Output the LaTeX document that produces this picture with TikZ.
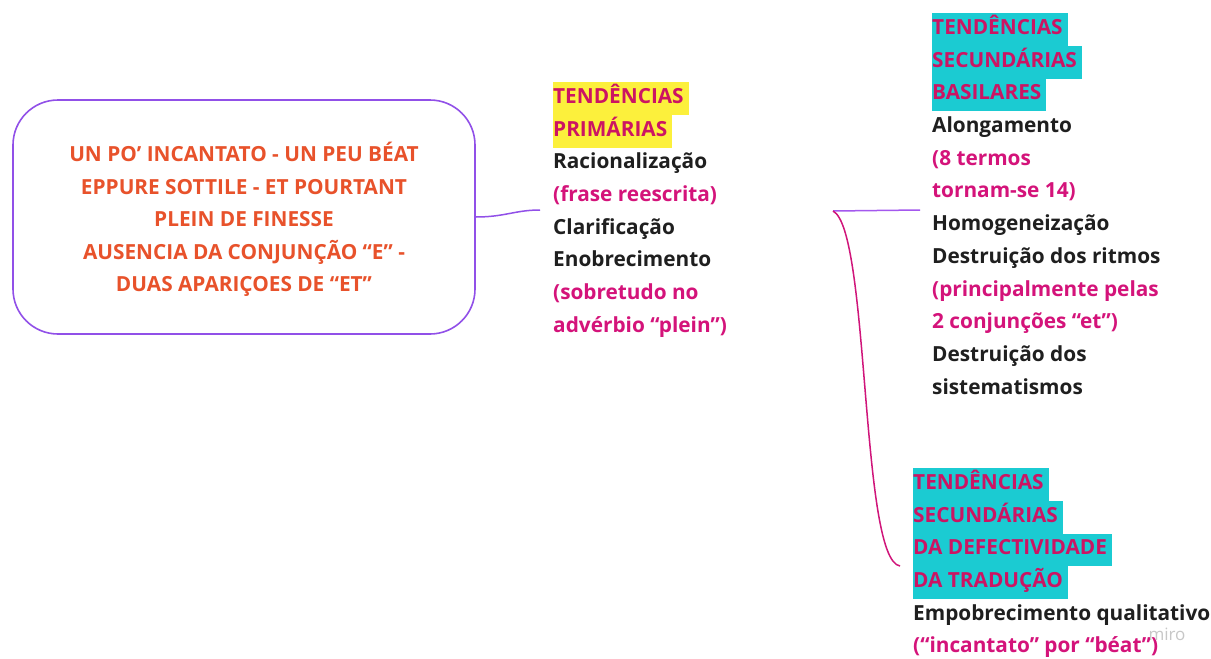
\documentclass[tikz,border=0pt]{standalone}
\usepackage{fontspec}
\setmainfont{Open Sans}
\definecolor{boxline}{HTML}{9150E8}
\definecolor{boxtext}{HTML}{E8522B}
\definecolor{pinktxt}{HTML}{D4137A}
\definecolor{titletxt}{HTML}{CC1463}
\definecolor{darktxt}{HTML}{1F1F1F}
\definecolor{yel}{HTML}{FCF03C}
\definecolor{cyn}{HTML}{1BCBD2}
\definecolor{magline}{HTML}{D0157A}
\definecolor{vioLine}{HTML}{A458EE}
\lineskip=0pt
\lineskiplimit=-100pt
\newcommand\lnstrut{\vrule height 21.2pt depth 11.5pt width 0pt\relax}
\newcommand\hlbox[2]{{\setlength\fboxsep{0pt}\colorbox{#1}{\lnstrut\color{titletxt}#2\hspace{5pt}}}}
\newcommand\dk[1]{\lnstrut\textcolor{darktxt}{#1}}
\newcommand\pk[1]{\lnstrut\textcolor{pinktxt}{#1}}
\tikzset{
  txtblock/.style={anchor=north west, inner sep=0pt, align=left,
    font=\fontsize{20.8}{32.7}\selectfont\bfseries},
  mainbox/.style={draw=boxline, line width=1.6pt, rounded corners=45pt, fill=white,
    minimum width=462pt, minimum height=234pt, inner sep=0pt, align=center,
    text=boxtext, font=\fontsize{20.8}{32.5}\selectfont\bfseries},
  conn/.style={line width=1.5pt}
}
\begin{document}
\begin{tikzpicture}[x=1pt,y=-1pt]
\useasboundingbox[fill=white] (0,0) rectangle (1211,659);
\node[mainbox] (a) at (244,217) {};
\node[text=boxtext, font=\fontsize{20.8}{32.5}\selectfont\bfseries, align=center, inner sep=0pt] (at) at (244,219.5) {UN PO’ INCANTATO - UN PEU BÉAT\\EPPURE SOTTILE - ET POURTANT\\PLEIN DE FINESSE\\AUSENCIA DA CONJUNÇÃO “E” -\\DUAS APARIÇOES DE “ET”};
\node[txtblock] (b) at (553,82) {\hlbox{yel}{TENDÊNCIAS}\\\hlbox{yel}{PRIMÁRIAS}\\\dk{Racionalização}\\\pk{(frase reescrita)}\\\dk{Clarificação}\\\dk{Enobrecimento}\\\pk{(sobretudo no}\\\pk{advérbio “plein”)}};
\node[txtblock] (c) at (932,13) {\hlbox{cyn}{TENDÊNCIAS}\\\hlbox{cyn}{SECUNDÁRIAS}\\\hlbox{cyn}{BASILARES}\\\dk{Alongamento}\\\pk{(8 termos}\\\pk{tornam-se 14)}\\\dk{Homogeneização}\\\dk{Destruição dos ritmos}\\\pk{(principalmente pelas}\\\pk{2 conjunções “et”)}\\\dk{Destruição dos}\\\dk{sistematismos}};
\node[txtblock] (d) at (913,468) {\hlbox{cyn}{TENDÊNCIAS}\\\hlbox{cyn}{SECUNDÁRIAS}\\\hlbox{cyn}{DA DEFECTIVIDADE}\\\hlbox{cyn}{DA TRADUÇÃO}\\\dk{Empobrecimento qualitativo}\\\pk{(“incantato” por “béat”)}};
\coordinate (bl) at (540,210);
\coordinate (h) at (833,211);
\coordinate (cl) at (920,210);
\coordinate (dl) at (900,566);
\draw[conn, draw=boxline] (a.east) .. controls (505,217) and (515,210) .. (bl);
\draw[conn, draw=vioLine] (h) -- (cl);
\draw[conn, draw=magline] (h) .. controls (870,230) and (860,560) .. (dl);
\node[anchor=center, inner sep=0pt, text=black!22, font=\fontsize{17}{17}\selectfont] (m) at (1167,634) {miro};
\end{tikzpicture}
\end{document}
